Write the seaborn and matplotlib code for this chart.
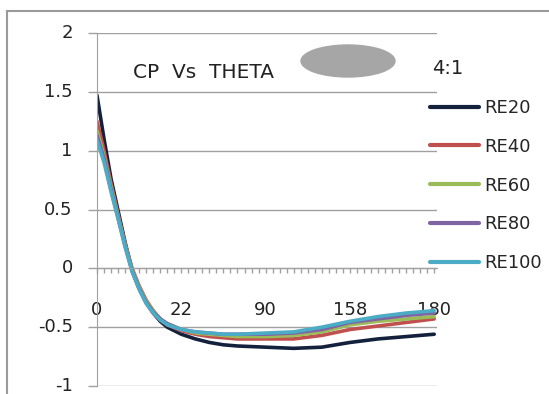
import pandas as pd
import matplotlib.pyplot as plt
import seaborn as sns
from matplotlib.patches import Ellipse, Rectangle

# category index along the theta axis (49 categories, labelled every 12th)
idx = [0, 1, 2, 3, 4, 5, 6, 7, 8, 9, 10, 12, 14, 16, 18, 20, 24, 28, 32, 36, 40, 44, 48]
tick_pos = [0, 12, 24, 36, 48]
tick_labels = ['0', '22', '90', '158', '180']

re20 = [1.47, 1.10, 0.76, 0.49, 0.22, -0.02, -0.17, -0.29, -0.38, -0.45, -0.50, -0.56,
        -0.60, -0.63, -0.65, -0.66, -0.67, -0.68, -0.67, -0.63, -0.60, -0.58, -0.56]
re40 = [1.25, 1.00, 0.72, 0.46, 0.21, 0.00, -0.15, -0.27, -0.36, -0.43, -0.48, -0.53,
        -0.56, -0.58, -0.59, -0.60, -0.60, -0.60, -0.57, -0.52, -0.49, -0.46, -0.43]
re60 = [1.17, 0.95, 0.69, 0.44, 0.20, -0.01, -0.16, -0.28, -0.36, -0.43, -0.47, -0.52,
        -0.55, -0.56, -0.57, -0.58, -0.58, -0.57, -0.54, -0.48, -0.45, -0.43, -0.41]
re80 = [1.13, 0.93, 0.67, 0.43, 0.19, -0.02, -0.17, -0.29, -0.37, -0.43, -0.47, -0.52,
        -0.54, -0.55, -0.56, -0.56, -0.56, -0.55, -0.52, -0.46, -0.43, -0.40, -0.38]
re100 = [1.09, 0.90, 0.65, 0.42, 0.18, -0.03, -0.18, -0.30, -0.38, -0.44, -0.48, -0.52,
         -0.54, -0.55, -0.56, -0.56, -0.55, -0.54, -0.50, -0.45, -0.41, -0.38, -0.36]

series = {'RE20': re20, 'RE40': re40, 'RE60': re60, 'RE80': re80, 'RE100': re100}
colors = ['#14213d', '#c0504d', '#9bbb59', '#8064a2', '#4bacc6']

df = pd.concat([pd.DataFrame({'idx': idx, 'cp': v, 'series': k}) for k, v in series.items()])

sns.set_style('white')
plt.rcParams['font.family'] = ['DejaVu Sans']

fig = plt.figure(figsize=(5.49, 3.94), dpi=100)
ax = fig.add_axes([97 / 549, 8 / 394, 340 / 549, 353 / 394])

sns.lineplot(data=df, x='idx', y='cp', hue='series', palette=colors, linewidth=2.6,
             ax=ax, legend=True)

grid = '#a0a0a0'
txt = '#222222'
ax.set_xlim(0, 48.4)
ax.set_ylim(-1, 2)
ax.set_yticks([-1, -0.5, 0, 0.5, 1, 1.5, 2])
ax.set_yticklabels(['-1', '-0.5', '0', '0.5', '1', '1.5', '2'], va='center')
ax.yaxis.grid(True, color=grid, linewidth=1)
ax.set_axisbelow(True)
for s in ['top', 'right']:
    ax.spines[s].set_visible(False)
ax.spines['left'].set_color(grid)
ax.spines['bottom'].set_color(grid)
ax.spines['bottom'].set_position(('data', 0))
ax.tick_params(axis='y', left=True, length=6.5, width=1, color=grid, pad=11,
               labelsize=13, labelcolor=txt)
ax.set_xticks(range(49))
ax.set_xticklabels([tick_labels[tick_pos.index(i)] if i in tick_pos else '' for i in range(49)])
ax.tick_params(axis='x', bottom=True, length=3.5, width=1, color=grid, pad=20,
               labelsize=13, labelcolor=txt)
ax.set_xlabel('')
ax.set_ylabel('')

ax.legend(loc='upper left', bbox_to_anchor=(430 / 549, 1 - 99 / 394),
          bbox_transform=fig.transFigure, frameon=False, fontsize=13,
          handlelength=2.7, handletextpad=0.3, labelspacing=1.15, borderpad=0,
          borderaxespad=0)
for line in ax.get_legend().get_lines():
    line.set_linewidth(3)

fig.text(133 / 549, 1 - 72 / 394, 'CP  Vs  THETA', fontsize=14.5, va='center', color=txt)
fig.text(432 / 549, 1 - 68 / 394, '4:1', fontsize=14, va='center', color=txt)
fig.patches.append(Ellipse((348 / 549, 1 - 61 / 394), 94 / 549, 32 / 394,
                           transform=fig.transFigure, color='#a6a6a6', zorder=1))
fig.patches.append(Rectangle((7 / 549, -0.05), 1.1, 1 - 11 / 394 + 0.05,
                             transform=fig.transFigure, fill=False, edgecolor='#9a9a9a',
                             linewidth=1.5))

fig.savefig('out.png', dpi=100)
